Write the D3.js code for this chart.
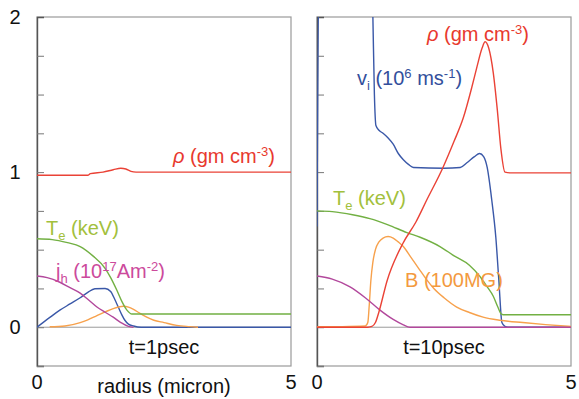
<!DOCTYPE html>
<html>
<head>
<meta charset="utf-8">
<script src="https://cdn.jsdelivr.net/npm/d3@7"></script>
<style>
  body { margin: 0; background: #fff; }
  svg { font-family: "Liberation Sans", Arial, sans-serif; }
</style>
</head>
<body>
<div id="chart"></div>
<script>
// radius (micron) / value pairs
// t = 1 psec
const rho1 = [[0,0.98],[1.0,0.98],[1.05,0.99],[1.3,1.0],[1.5,1.015],[1.65,1.025],[1.75,1.02],[1.85,1.005],[1.95,1.0],[5,1.0]];
const te1 = [[0,0.57],[0.3,0.565],[0.6,0.545],[0.85,0.52],[1.1,0.46],[1.34,0.38],[1.45,0.32],[1.57,0.24],[1.68,0.16],[1.77,0.11],[1.87,0.085],[5,0.085]];
const jh1 = [[0,0.33],[0.2,0.32],[0.45,0.29],[0.65,0.255],[0.85,0.22],[1.0,0.18],[1.18,0.13],[1.35,0.095],[1.5,0.065],[1.65,0.03],[1.8,0.005],[1.9,0]];
const vi1 = [[0,0],[0.26,0.065],[0.45,0.11],[0.65,0.15],[0.85,0.19],[1.0,0.225],[1.14,0.248],[1.34,0.25],[1.45,0.23],[1.53,0.18],[1.6,0.13],[1.67,0.08],[1.73,0.045],[1.8,0.02],[1.9,0.008],[2.05,0],[5,0]];
const b1 = [[0.25,0.003],[0.55,0.008],[0.85,0.03],[1.0,0.048],[1.18,0.075],[1.35,0.1],[1.5,0.12],[1.7,0.135],[1.8,0.13],[1.9,0.115],[2.0,0.095],[2.16,0.065],[2.3,0.045],[2.5,0.03],[2.75,0.012],[3.0,0.004],[3.17,0]];

// t = 10 psec
const rho2 = [[0,0],[1.0,0],[1.08,0.005],[1.15,0.03],[1.22,0.1],[1.38,0.3],[1.69,0.54],[1.95,0.68],[2.16,0.82],[2.48,1.03],[2.7,1.2],[2.88,1.35],[3.05,1.55],[3.15,1.68],[3.25,1.8],[3.31,1.84],[3.38,1.8],[3.47,1.64],[3.55,1.4],[3.62,1.15],[3.7,1.0],[3.8,0.995],[5,0.995]];
const vi2 = [[0,0.65],[0.04,2.3],[1.08,2.3],[1.1,2.0],[1.13,1.5],[1.16,1.3],[1.22,1.27],[1.3,1.25],[1.4,1.22],[1.5,1.18],[1.6,1.12],[1.7,1.08],[1.8,1.05],[1.9,1.03],[2.5,1.025],[2.82,1.03],[2.95,1.06],[3.1,1.1],[3.2,1.12],[3.28,1.1],[3.35,1.03],[3.44,0.82],[3.52,0.58],[3.58,0.3],[3.64,0.03],[3.7,0.005],[3.76,0],[5,0]];
const te2 = [[0,0.75],[0.3,0.745],[0.7,0.725],[1.04,0.7],[1.4,0.66],[1.77,0.61],[2.03,0.58],[2.42,0.52],[2.7,0.46],[3.0,0.4],[3.2,0.33],[3.35,0.26],[3.47,0.2],[3.56,0.13],[3.63,0.085],[3.7,0.08],[5,0.08]];
const jh2 = [[0,0.33],[0.3,0.31],[0.65,0.26],[0.95,0.19],[1.24,0.11],[1.5,0.05],[1.7,0.015],[1.83,0],[5,0]];
const b2 = [[0,0.003],[0.5,0.004],[0.95,0.008],[1.0,0.03],[1.03,0.15],[1.06,0.3],[1.1,0.42],[1.15,0.5],[1.22,0.55],[1.3,0.575],[1.4,0.585],[1.5,0.575],[1.6,0.55],[1.7,0.52],[1.85,0.45],[2.0,0.38],[2.15,0.31],[2.3,0.25],[2.5,0.19],[2.75,0.13],[3.0,0.095],[3.27,0.065],[3.6,0.045],[4.05,0.03],[4.5,0.017],[5,0.005]];

const yTickLabels = [0, 1, 2];
const xTickLabels = [0, 5];
const panelTitles = ['t=1psec', 't=10psec'];

const colors = {
  rho: '#ea4236', te: '#72b043', jh: '#b2489c', vi: '#3a58a8', b: '#f7a14c',
  rhoText: '#e8392e', teText: '#a2c03c', jhText: '#cc4a9c', viText: '#334f9c', bText: '#f39a3f'
};

const width = 579, height = 399;
const svg = d3.select('#chart').append('svg')
  .attr('width', width)
  .attr('height', height);

const y = d3.scaleLinear().domain([-0.25, 2]).range([366, 17]);
const x1 = d3.scaleLinear().domain([0, 5]).range([37, 291]);
const x2 = d3.scaleLinear().domain([0, 5]).range([317, 571]);

function drawPanel(x, id, series, title) {
  const [x0, xe] = x.range();
  const g = svg.append('g');

  g.append('clipPath').attr('id', id)
    .append('rect')
    .attr('x', x0).attr('y', y(2))
    .attr('width', xe - x0).attr('height', y(-0.25) - y(2));

  // frame
  g.append('rect')
    .attr('x', x0).attr('y', y(2))
    .attr('width', xe - x0).attr('height', y(-0.25) - y(2))
    .attr('fill', 'none').attr('stroke', '#9a9a9a').attr('stroke-width', 1.2);

  // zero line
  g.append('line')
    .attr('x1', x0).attr('x2', xe)
    .attr('y1', y(0)).attr('y2', y(0))
    .attr('stroke', '#9a9a9a').attr('stroke-width', 1);

  // y axis with inner ticks
  const yAxis = d3.axisRight(y).tickValues(d3.range(-0.25, 2, 0.25)).tickSize(7).tickFormat('');
  const ax = g.append('g').attr('transform', `translate(${x0},0)`).call(yAxis);
  ax.select('.domain').attr('stroke', '#555').attr('stroke-width', 1.4);
  ax.selectAll('.tick line').attr('stroke', '#777');

  const line = d3.line()
    .x(d => x(d[0]))
    .y(d => y(d[1]))
    .curve(d3.curveMonotoneX);

  const lines = g.append('g').attr('clip-path', `url(#${id})`);
  series.forEach(s => {
    lines.append('path')
      .datum(s.data)
      .attr('d', line)
      .attr('fill', 'none')
      .attr('stroke', s.color)
      .attr('stroke-width', 1.4);
  });

  g.append('text')
    .attr('x', (x0 + xe) / 2)
    .attr('y', 354)
    .attr('text-anchor', 'middle')
    .attr('font-size', 20)
    .attr('fill', '#111')
    .text(title);

  // x tick labels
  g.selectAll('.xl')
    .data(xTickLabels)
    .enter().append('text')
    .attr('x', d => x(d))
    .attr('y', 389)
    .attr('text-anchor', 'middle')
    .attr('font-size', 20)
    .attr('fill', '#111')
    .text(d => d);
}

drawPanel(x1, 'clip1', [
  {data: rho1, color: colors.rho},
  {data: vi1, color: colors.vi},
  {data: b1, color: colors.b},
  {data: jh1, color: colors.jh},
  {data: te1, color: colors.te}
], panelTitles[0]);

drawPanel(x2, 'clip2', [
  {data: vi2, color: colors.vi},
  {data: b2, color: colors.b},
  {data: te2, color: colors.te},
  {data: jh2, color: colors.jh},
  {data: rho2, color: colors.rho}
], panelTitles[1]);

// y tick labels
svg.selectAll('.yl')
  .data(yTickLabels)
  .enter().append('text')
  .attr('x', 15)
  .attr('y', d => y(d) + 7)
  .attr('text-anchor', 'middle')
  .attr('font-size', 20)
  .attr('fill', '#111')
  .text(d => d);

svg.append('text')
  .attr('x', 164)
  .attr('y', 393)
  .attr('text-anchor', 'middle')
  .attr('font-size', 20)
  .attr('fill', '#111')
  .text('radius (micron)');

// series labels
function label(xp, yp, color, parts) {
  const t = svg.append('text')
    .attr('x', xp).attr('y', yp)
    .attr('font-size', 20)
    .attr('fill', color);
  parts.forEach(p => {
    const ts = t.append('tspan').text(p.t);
    if (p.sup) ts.attr('font-size', 13).attr('baseline-shift', '7');
    if (p.sub) ts.attr('font-size', 13).attr('baseline-shift', '-5');
    if (p.it) ts.attr('font-style', 'italic');
  });
}

const rhoParts = [{t: 'ρ', it: true}, {t: ' (gm cm'}, {t: '-3', sup: true}, {t: ')'}];
label(173, 163, colors.rhoText, rhoParts);
label(427, 41, colors.rhoText, rhoParts);
label(46, 235, colors.teText, [{t: 'T'}, {t: 'e', sub: true}, {t: ' (keV)'}]);
label(333, 205, colors.teText, [{t: 'T'}, {t: 'e', sub: true}, {t: ' (keV)'}]);
label(56, 278, colors.jhText, [{t: 'j'}, {t: 'h', sub: true}, {t: ' (10'}, {t: '17', sup: true}, {t: 'Am'}, {t: '-2', sup: true}, {t: ')'}]);
label(357, 85, colors.viText, [{t: 'v'}, {t: 'i', sub: true}, {t: ' (10'}, {t: '6', sup: true}, {t: ' ms'}, {t: '-1', sup: true}, {t: ')'}]);
label(405, 287, colors.bText, [{t: 'B (100MG)'}]);
</script>
</body>
</html>
